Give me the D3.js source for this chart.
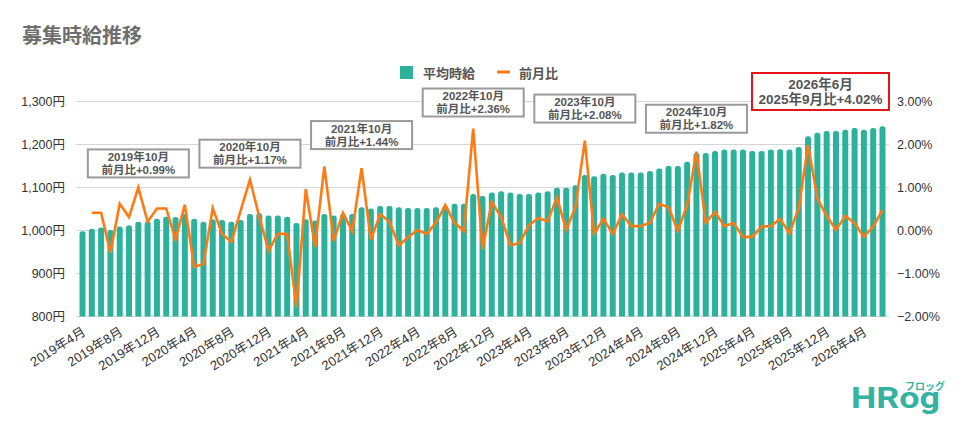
<!DOCTYPE html>
<html>
  <head>
    <meta charset="utf-8">
    <script type="text/javascript" src="https://cdn.jsdelivr.net/npm/d3@7/dist/d3.min.js"></script>
    <title>募集時給推移</title>
    <style>
      body { margin: 0; background: #fff; }
      text { font-family: "Liberation Sans", Arial, "Noto Sans CJK JP", sans-serif; }
    </style>
  </head>
  <body>
    <div id="chart"></div>
    <script type="text/javascript">
    var w = 960, h = 438;

    // months 2019-04 .. 2026-06
    var months = d3.timeMonth.range(new Date(2019, 3, 1), new Date(2026, 6, 1));

    // 平均時給 (円)
    var wage = [
      997, 1003, 1006, 1000, 1008, 1011, 1019, 1020, 1026, 1031, 1030, 1037, 1026,
      1019, 1025, 1023, 1019, 1023, 1037, 1039, 1034, 1034, 1031, 1016, 1025, 1022,
      1037, 1034, 1037, 1037, 1053, 1050, 1056, 1056, 1053, 1051, 1051, 1051, 1053,
      1056, 1061, 1061, 1084, 1079, 1087, 1090, 1087, 1084, 1084, 1087, 1090, 1098,
      1098, 1104, 1128, 1125, 1131, 1128, 1134, 1134, 1134, 1137, 1143, 1149, 1149,
      1159, 1179, 1179, 1184, 1187, 1187, 1187, 1184, 1184, 1187, 1188, 1187, 1193,
      1218, 1226, 1230, 1230, 1233, 1237, 1233, 1237, 1241
    ];

    // 前月比 (%)
    var mom = [
      null, 0.40, 0.40, -0.53, 0.61, 0.30, 0.99, 0.19, 0.50, 0.50, -0.22, 0.59, -0.86,
      -0.79, 0.51, -0.09, -0.28, 0.45, 1.17, 0.31, -0.48, -0.09, -0.09, -1.80, 0.95, -0.39,
      1.48, -0.25, 0.40, -0.03, 1.44, -0.23, 0.37, 0.19, -0.36, -0.17, 0.00, -0.09, 0.17,
      0.58, 0.16, -0.02, 2.36, -0.45, 0.65, 0.30, -0.36, -0.30, 0.11, 0.28, 0.20, 0.76,
      0.00, 0.54, 2.08, -0.09, 0.26, -0.09, 0.36, 0.09, 0.09, 0.17, 0.61, 0.53, -0.02,
      0.58, 1.82, 0.17, 0.42, 0.09, 0.16, -0.16, -0.16, 0.08, 0.09, 0.26, -0.08, 0.51,
      1.98, 0.73, 0.33, 0.00, 0.33, 0.16, -0.16, 0.08, 0.47
    ];

    var wageTicks = [800, 900, 1000, 1100, 1200, 1300];
    var pctTicks = [-2, -1, 0, 1, 2, 3];

    // callouts on yearly October peaks
    var calloutMonths = ["2019-10", "2020-10", "2021-10", "2022-10", "2023-10", "2024-10"];
    var calloutLift = [10, 12, 19, 12, 18, 19];
    var highlight = ["2026年6月", "2025年9月比+4.02%"];

    var teal = "#2bb29c", orange = "#ff7a12";
    var fmtMonth = function(d) { return d.getFullYear() + "年" + (d.getMonth() + 1) + "月"; };
    var keyMonth = d3.timeFormat("%Y-%m");

    var pL = 76, pR = 889, pT = 101, pB = 316;

    var svg = d3.select("#chart").append("svg")
      .attr("width", w).attr("height", h);

    var x = d3.scalePoint().domain(d3.range(months.length)).range([pL, pR]).padding(0.7);
    var y = d3.scaleLinear().domain([800, 1300]).range([pB, pT]);
    var y2 = d3.scaleLinear().domain([-2, 3]).range([pB, pT]);

    // title
    svg.append("text").attr("x", 22).attr("y", 43)
      .attr("font-size", 20).attr("font-weight", "bold").attr("fill", "#6e6e6e")
      .text("募集時給推移");

    // gridlines
    svg.append("g").selectAll("line").data(wageTicks).enter().append("line")
      .attr("x1", pL).attr("x2", pR)
      .attr("y1", function(d) { return y(d) + 0.5; })
      .attr("y2", function(d) { return y(d) + 0.5; })
      .attr("stroke", "#d6d6d6").attr("stroke-width", 1);

    // left axis
    var yAxis = svg.append("g").attr("transform", "translate(" + (pL - 8) + ",0)")
      .call(d3.axisLeft(y).tickValues(wageTicks).tickSize(0)
        .tickFormat(function(d) { return d3.format(",")(d) + "円"; }));
    yAxis.select(".domain").remove();
    yAxis.selectAll("text").attr("font-size", 12.5).attr("fill", "#333")
      .style("font-family", "\"Liberation Sans\", Arial, \"Noto Sans CJK JP\", sans-serif");

    // right axis
    var y2Axis = svg.append("g").attr("transform", "translate(" + (pR + 8) + ",0)")
      .call(d3.axisRight(y2).tickValues(pctTicks).tickSize(0)
        .tickFormat(function(d) { return d3.format(".2f")(d) + "%"; }));
    y2Axis.select(".domain").remove();
    y2Axis.selectAll("text").attr("font-size", 12.5).attr("fill", "#333").attr("x", 0)
      .style("font-family", "\"Liberation Sans\", Arial, sans-serif");

    // bars with rounded tops
    svg.append("clipPath").attr("id", "plotclip").append("rect")
      .attr("x", 0).attr("y", 0).attr("width", w).attr("height", pB + 0.5);
    var bw = 6;
    svg.append("g").attr("clip-path", "url(#plotclip)")
      .selectAll("rect").data(wage).enter().append("rect")
      .attr("x", function(d, i) { return x(i) - bw / 2; })
      .attr("y", function(d) { return y(d); })
      .attr("width", bw)
      .attr("height", function(d) { return pB - y(d) + 4; })
      .attr("rx", 2.5)
      .attr("fill", teal);

    // line
    var line = d3.line()
      .defined(function(d) { return d != null; })
      .x(function(d, i) { return x(i); })
      .y(function(d) { return y2(d); });
    svg.append("path").datum(mom)
      .attr("d", line)
      .attr("fill", "none")
      .attr("stroke", orange)
      .attr("stroke-width", 2.6)
      .attr("stroke-linejoin", "miter");

    // x labels
    var xl = svg.append("g");
    months.forEach(function(m, i) {
      if (i % 4 !== 0) return;
      xl.append("text")
        .attr("transform", "translate(" + (x(i) + 4) + "," + 334 + ") rotate(-32)")
        .attr("text-anchor", "end")
        .attr("font-size", 13).attr("fill", "#333")
        .text(fmtMonth(m));
    });

    // legend
    var lg = svg.append("g").attr("font-size", 13).attr("font-weight", "bold").attr("fill", "#555");
    lg.append("rect").attr("x", 400).attr("y", 66).attr("width", 13).attr("height", 13).attr("fill", teal);
    lg.append("text").attr("x", 423).attr("y", 77.5).text("平均時給");
    lg.append("rect").attr("x", 497).attr("y", 70.5).attr("width", 13).attr("height", 3).attr("fill", orange);
    lg.append("text").attr("x", 519).attr("y", 77.5).text("前月比");

    // callouts
    var cw = 101, ch = 28;
    calloutMonths.forEach(function(k, j) {
      var i = months.findIndex(function(m) { return keyMonth(m) === k; });
      var cx = x(i), by = y2(mom[i]) - calloutLift[j];
      var g = svg.append("g").attr("transform", "translate(" + (cx - cw / 2) + "," + (by - ch) + ")");
      g.append("rect").attr("width", cw).attr("height", ch)
        .attr("fill", "#fff").attr("stroke", "#9a9a9a").attr("stroke-width", 2);
      g.append("text").attr("x", cw / 2).attr("y", 11.5).attr("text-anchor", "middle")
        .attr("font-size", 11.5).attr("font-weight", "bold").attr("fill", "#555")
        .text(fmtMonth(months[i]));
      g.append("text").attr("x", cw / 2).attr("y", 24.5).attr("text-anchor", "middle")
        .attr("font-size", 11.5).attr("font-weight", "bold").attr("fill", "#555")
        .text("前月比+" + d3.format(".2f")(mom[i]) + "%");
    });

    // highlight box
    var hw = 137, hh = 37;
    var hg = svg.append("g").attr("transform", "translate(" + (pR - hw) + ",73)");
    hg.append("rect").attr("width", hw).attr("height", hh)
      .attr("fill", "#fff").attr("stroke", "#e8141b").attr("stroke-width", 2);
    highlight.forEach(function(t, j) {
      hg.append("text").attr("x", hw / 2).attr("y", 16 + j * 15).attr("text-anchor", "middle")
        .attr("font-size", 13.5).attr("font-weight", "bold").attr("fill", "#555")
        .text(t);
    });

    // logo
    svg.append("text").attr("x", 851).attr("y", 408)
      .attr("font-size", 29).attr("font-weight", "bold").attr("fill", "#33b3a0")
      .attr("textLength", 89).attr("lengthAdjust", "spacingAndGlyphs")
      .style("font-family", "Roboto, \"Open Sans\", sans-serif")
      .text("HRog");
    svg.append("text").attr("x", 905).attr("y", 390)
      .attr("font-size", 10).attr("font-weight", "bold").attr("fill", "#33b3a0")
      .attr("textLength", 40).attr("lengthAdjust", "spacingAndGlyphs")
      .style("font-family", "\"Noto Sans CJK JP\", sans-serif")
      .text("フロッグ");
    </script>
  </body>
</html>
